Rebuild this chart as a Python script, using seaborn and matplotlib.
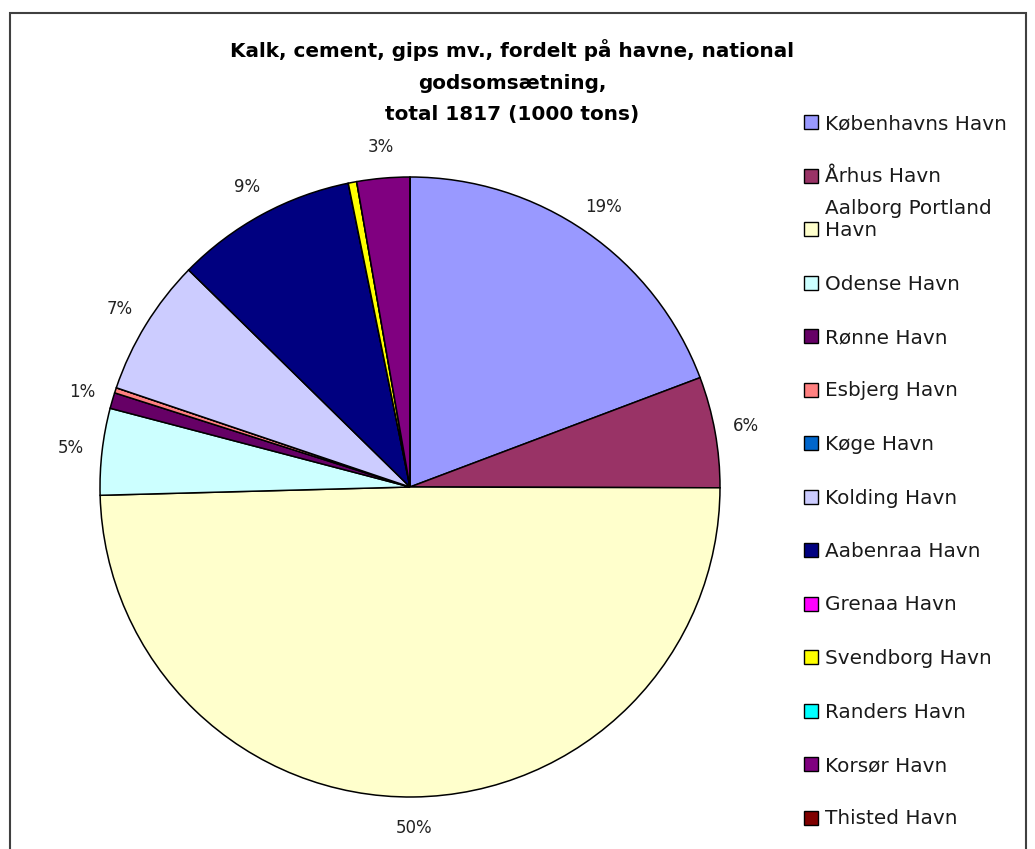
import textwrap
import matplotlib
matplotlib.use("Agg")
import matplotlib.pyplot as plt
from matplotlib.patches import Rectangle
import seaborn as sns

# Data (1000 tons), total 1817
ports = ["Københavns Havn", "Århus Havn", "Aalborg Portland Havn", "Odense Havn",
         "Rønne Havn", "Esbjerg Havn", "Køge Havn", "Kolding Havn", "Aabenraa Havn",
         "Grenaa Havn", "Svendborg Havn", "Randers Havn", "Korsør Havn", "Thisted Havn"]
tons = [350, 105, 900, 82, 15, 5, 0, 130, 172, 0, 8, 0, 50, 0]
colors = ["#9999FF", "#993366", "#FFFFCC", "#CCFFFF", "#660066", "#FF8080", "#0066CC",
          "#CCCCFF", "#000080", "#FF00FF", "#FFFF00", "#00FFFF", "#800080", "#800000"]
title = "Kalk, cement, gips mv., fordelt på havne, national\ngodsomsætning,\ntotal 1817 (1000 tons)"

W, H = 1035, 849

sns.set_style("white")
plt.rcParams["font.family"] = ["DejaVu Sans"]
palette = sns.color_palette(colors)


def fx(px):
    return px / W


def fy(py):
    return 1 - py / H


fig = plt.figure(figsize=(W / 100, H / 100), dpi=100)

# pie: centre (410, 487) px, radius 310 px
cx, cy, r = 410, 487, 310
ax = fig.add_axes([fx(cx - r), fy(cy + r), 2 * r / W, 2 * r / H])
wedges, _, pct_texts = ax.pie(
    tons, colors=palette, startangle=90, counterclock=False,
    autopct=lambda p: f"{p:.0f}%" if p >= 0.5 else "",
    pctdistance=1.1,
    wedgeprops=dict(edgecolor="black", linewidth=1.1),
    textprops=dict(fontsize=12, color="#222222"),
)
for w in wedges:
    w.set_clip_on(False)
ax.set_xlim(-1, 1)
ax.set_ylim(-1, 1)
ax.axis("off")

# title
fig.text(fx(512), fy(39), title, ha="center", va="top", fontsize=14.4,
         fontweight="bold", linespacing=1.85, color="black")

# legend, one row per port
row0, step = 122, 53.5
for i, (name, col) in enumerate(zip(ports, palette)):
    y = row0 + i * step
    fig.add_artist(Rectangle((fx(804), fy(y + 7)), 14 / W, 14 / H, facecolor=col,
                             edgecolor="black", lw=1, transform=fig.transFigure))
    fig.text(fx(825), fy(y + 7), textwrap.fill(name, 17), fontsize=14.4,
             va="baseline", ha="left", color="#1a1a1a")

# chart frame
fig.add_artist(Rectangle((fx(10), fy(860)), (1026 - 10) / W, (860 - 13) / H, fill=False,
                         edgecolor="#404040", lw=1.5, transform=fig.transFigure))

fig.savefig("out.png", dpi=100)
